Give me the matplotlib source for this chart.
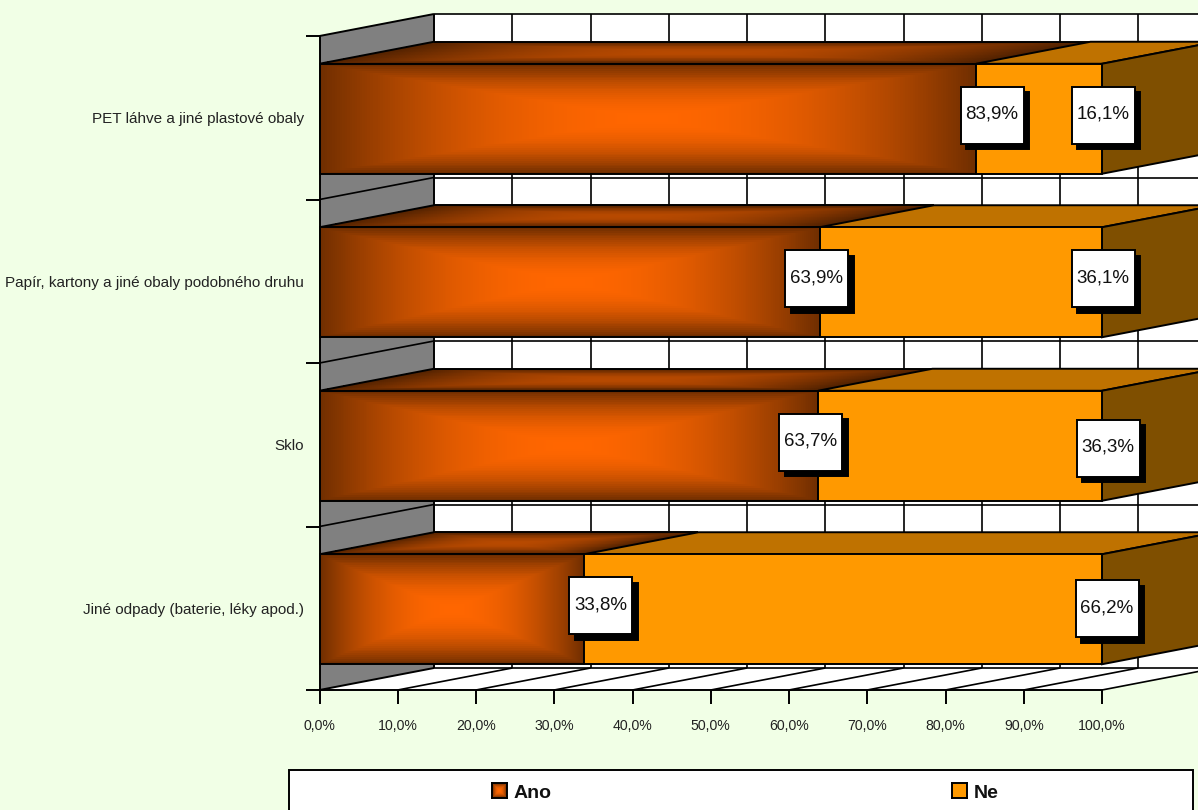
import matplotlib.pyplot as plt
import numpy as np
from matplotlib.patches import Polygon, Rectangle

# data
categories = ['PET láhve a jiné plastové obaly',
              'Papír, kartony a jiné obaly podobného druhu',
              'Sklo',
              'Jiné odpady (baterie, léky apod.)']
ano = [83.9, 63.9, 63.7, 33.8]
ne = [16.1, 36.1, 36.3, 66.2]
x_ticks = [0, 10, 20, 30, 40, 50, 60, 70, 80, 90, 100]

# hand placed data labels, offset from the end of the segment (pixels)
ano_label_shift = [(16, -2.5), (-3, -2.5), (-7, -2.5), (17, -2.5)]
ne_label_shift = [(1, -2.5), (1, -2.5), (6, 3.5), (5, 0.5)]

FONT = ['Liberation Sans', 'DejaVu Sans']
BG = '#F1FFE6'
ORANGE = '#FF9900'
ORANGE_TOP = '#BF7200'
ORANGE_SIDE = '#7F4F00'
GREY = '#808080'
W, H = 1198, 810

plt.rcParams['font.family'] = FONT

fig = plt.figure(figsize=(W / 100, H / 100), dpi=100, facecolor=BG)
ax = fig.add_axes([319.5 / W, (H - 690) / H, 782.5 / W, 654 / H])
ax.set_xlim(0, 100)
ax.set_ylim(4, 0)
ax.patch.set_alpha(0)

px_x = 100 / 782.5      # data units per pixel
px_y = 4 / 654
dx = 114.5 * px_x       # 3D depth
dy = 22 * px_y
bar_h = 110 * px_y
LW = 1.4
GRID_LW = 1.2


def gradient(nx, ny, gain=1.0):
    # rectangular gradient, bright middle and dark edges
    u = np.abs(np.linspace(-1, 1, nx))
    v = np.abs(np.linspace(-1, 1, ny))
    t = np.maximum.outer(v, u)
    f = 1 - t ** 2
    dark = np.array([112, 46, 0]) / 255
    light = np.array([255, 102, 0]) / 255
    return (dark + (light - dark) * f[..., None]) * gain


def line(xs, ys, lw=GRID_LW, z=2):
    ax.plot(xs, ys, color='black', lw=lw, zorder=z, clip_on=False, solid_capstyle='butt')


# walls and floor
ax.add_patch(Polygon([(0, 0), (dx, -dy), (dx, 4 - dy), (0, 4)], fc=GREY, ec='none', zorder=1, clip_on=False))
ax.add_patch(Rectangle((dx, -dy), 100 + dx, 4, fc='white', ec='none', zorder=1, clip_on=False))
ax.add_patch(Polygon([(0, 4), (100, 4), (100 + dx, 4 - dy), (dx, 4 - dy)], fc='white', ec='none', zorder=1, clip_on=False))
line([dx, dx], [-dy, 4 - dy], lw=LW)
for t in x_ticks[1:]:
    line([t + dx, t + dx], [-dy, 4 - dy])
    line([t, t + dx], [4, 4 - dy])
for i in range(5):
    line([dx, 100 + dx], [i - dy, i - dy])
    line([0, dx], [i, i - dy], lw=LW if i in (0, 4) else GRID_LW)

# bars
for i in range(len(categories)):
    top = i + 0.5 - bar_h / 2 + 1 * px_y
    bot = top + bar_h
    end = ano[i]
    total = ano[i] + ne[i]

    # top of the Ano segment, sheared gradient
    nx, ny = 260, 30
    s = np.linspace(0, 1, ny)
    xs = np.linspace(0, end, nx)
    X = xs[None, :] + (dx * s)[:, None]
    Y = np.repeat((top - dy * s)[:, None], nx, axis=1)
    ax.pcolormesh(X, Y, gradient(nx - 1, ny - 1, 0.72), shading='flat', zorder=3, clip_on=False)
    line([0, dx], [top, top - dy], lw=LW, z=4)
    line([dx, end + dx], [top - dy, top - dy], lw=LW, z=4)

    # top and side of the Ne segment
    ax.add_patch(Polygon([(end, top), (total, top), (total + dx, top - dy), (end + dx, top - dy)],
                         fc=ORANGE_TOP, ec='black', lw=LW, zorder=4, clip_on=False))
    ax.add_patch(Polygon([(total, top), (total + dx, top - dy), (total + dx, bot - dy), (total, bot)],
                         fc=ORANGE_SIDE, ec='black', lw=LW, zorder=4, clip_on=False))

    # front faces
    xs = np.linspace(0, end, 261)
    ys = np.linspace(top, bot, 61)
    ax.pcolormesh(xs, ys, gradient(260, 60), shading='flat', zorder=5, clip_on=False)
    ax.add_patch(Rectangle((0, top), end, bar_h, fc='none', ec='black', lw=LW, zorder=6, clip_on=False))
    ax.add_patch(Rectangle((end, top), ne[i], bar_h, fc=ORANGE, ec='black', lw=LW, zorder=6, clip_on=False))

    # data labels with drop shadow
    mid = i + 0.5
    for val, pos, shift in ((ano[i], end, ano_label_shift[i]), (ne[i], total, ne_label_shift[i])):
        cx = pos + shift[0] * px_x
        cy = mid + shift[1] * px_y
        bw, bh = 63 * px_x, 57 * px_y
        ax.add_patch(Rectangle((cx - bw / 2 + 5.5 * px_x, cy - bh / 2 + 5.5 * px_y), bw, bh, fc='black', ec='black',
                               lw=LW, zorder=7, clip_on=False))
        ax.add_patch(Rectangle((cx - bw / 2, cy - bh / 2), bw, bh, fc='white', ec='black', lw=LW, zorder=8, clip_on=False))
        ax.text(cx, cy - 1 * px_y, f'{val:.1f}%'.replace('.', ','), ha='center', va='center', fontsize=13.5,
                color='#111111', zorder=9)

# axes
for name in ('top', 'right'):
    ax.spines[name].set_visible(False)
for name in ('left', 'bottom'):
    ax.spines[name].set_linewidth(LW)
    ax.spines[name].set_zorder(10)
ax.set_xticks(x_ticks)
ax.set_xticklabels([f'{t},0%' for t in x_ticks], fontsize=10.2, color='#222222')
ax.set_yticks(range(5))
ax.set_yticklabels([])
ax.set_yticks(np.arange(len(categories)) + 0.5, minor=True)
ax.set_yticklabels(categories, minor=True, fontsize=11, color='#222222')
ax.tick_params(axis='x', length=10, width=1.4, pad=11)
ax.tick_params(axis='y', which='major', length=10, width=1.4)
ax.tick_params(axis='y', which='minor', length=0, pad=11)

# legend box, runs off the bottom of the picture
fig.patches.append(Rectangle((289 / W, -5 / H), 904 / W, (H - 770 + 5) / H, transform=fig.transFigure, fc='white',
                             ec='black', lw=LW, figure=fig))
sw = fig.add_axes([492 / W, (H - 798) / H, 15 / W, 15 / H], zorder=5)
sw.pcolormesh(gradient(15, 15), shading='flat')
sw.set_xticks([])
sw.set_yticks([])
for sp in sw.spines.values():
    sp.set_linewidth(LW)
sw2 = fig.add_axes([952 / W, (H - 798) / H, 15 / W, 15 / H], facecolor=ORANGE, zorder=5)
sw2.set_xticks([])
sw2.set_yticks([])
for sp in sw2.spines.values():
    sp.set_linewidth(LW)
fig.text(514 / W, (H - 793) / H, 'Ano', fontsize=14, fontweight='bold', va='center', color='#111111')
fig.text(974 / W, (H - 793) / H, 'Ne', fontsize=14, fontweight='bold', va='center', color='#111111')

plt.savefig('out.png', dpi=100, facecolor=BG)
